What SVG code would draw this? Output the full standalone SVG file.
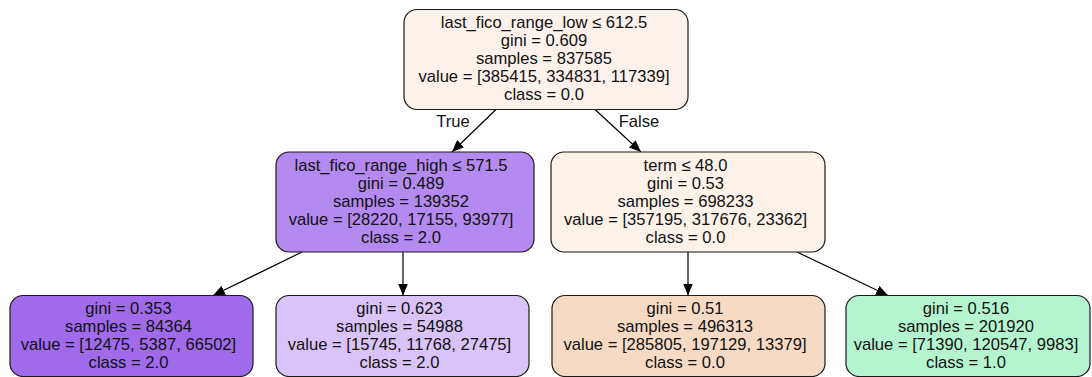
<svg xmlns="http://www.w3.org/2000/svg" width="1092" height="377" viewBox="0 0 1092 377">
<style>
.box{stroke:#1a1a1a;stroke-width:1.2}
text{font-family:"Liberation Sans",Arial,sans-serif;font-size:16.6px;fill:#111;text-anchor:middle}
.edge{stroke:#000;stroke-width:1.2;fill:none}
</style>
<defs>
<marker id="arr" markerUnits="userSpaceOnUse" viewBox="0 0 12 10" refX="12" refY="5" markerWidth="12" markerHeight="10" orient="auto">
<path d="M0,0 L12,5 L0,10 z" fill="#000"/>
</marker>
</defs>
<rect width="1092" height="377" fill="#fff"/>
<g id="edges">
<path class="edge" d="M496,109.5 L452,152" marker-end="url(#arr)"/>
<path class="edge" d="M595,109.5 L641,152" marker-end="url(#arr)"/>
<path class="edge" d="M302,252 L213,295.5" marker-end="url(#arr)"/>
<path class="edge" d="M403,252 L403,295.5" marker-end="url(#arr)"/>
<path class="edge" d="M688,252 L688,295.5" marker-end="url(#arr)"/>
<path class="edge" d="M797,252 L888,295.5" marker-end="url(#arr)"/>
<text x="453" y="126.5">True</text>
<text x="639" y="126.5">False</text>
</g>
<g id="n0">
<rect class="box" x="404" y="9.5" width="284" height="100" rx="13" fill="#fcf2eb"/>
<text x="544" y="28">last_fico_range_low ≤ 612.5</text>
<text x="544" y="46">gini = 0.609</text>
<text x="544" y="64">samples = 837585</text>
<text x="544" y="82">value = [385415, 334831, 117339]</text>
<text x="544" y="100">class = 0.0</text>
</g>
<g id="n1">
<rect class="box" x="276" y="152" width="258" height="100" rx="13" fill="#b48af0"/>
<text x="401" y="170.5">last_fico_range_high ≤ 571.5</text>
<text x="401" y="188.5">gini = 0.489</text>
<text x="401" y="206.5">samples = 139352</text>
<text x="401" y="224.5">value = [28220, 17155, 93977]</text>
<text x="401" y="242.5">class = 2.0</text>
</g>
<g id="n4">
<rect class="box" x="551" y="152" width="274" height="100" rx="13" fill="#fcf2ea"/>
<text x="685.5" y="170.5">term ≤ 48.0</text>
<text x="685.5" y="188.5">gini = 0.53</text>
<text x="685.5" y="206.5">samples = 698233</text>
<text x="685.5" y="224.5">value = [357195, 317676, 23362]</text>
<text x="685.5" y="242.5">class = 0.0</text>
</g>
<g id="n2">
<rect class="box" x="10" y="295.5" width="243" height="81" rx="13" fill="#a06aeb"/>
<text x="128.5" y="314">gini = 0.353</text>
<text x="128.5" y="332">samples = 84364</text>
<text x="128.5" y="350">value = [12475, 5387, 66502]</text>
<text x="128.5" y="368">class = 2.0</text>
</g>
<g id="n3">
<rect class="box" x="276" y="295.5" width="253" height="81" rx="13" fill="#d9c4f7"/>
<text x="399.5" y="314">gini = 0.623</text>
<text x="399.5" y="332">samples = 54988</text>
<text x="399.5" y="350">value = [15745, 11768, 27475]</text>
<text x="399.5" y="368">class = 2.0</text>
</g>
<g id="n5">
<rect class="box" x="552" y="295.5" width="273" height="81" rx="13" fill="#f7dac4"/>
<text x="685" y="314">gini = 0.51</text>
<text x="685" y="332">samples = 496313</text>
<text x="685" y="350">value = [285805, 197129, 13379]</text>
<text x="685" y="368">class = 0.0</text>
</g>
<g id="n6">
<rect class="box" x="846" y="295.5" width="244" height="81" rx="13" fill="#b4f5cf"/>
<text x="966" y="314">gini = 0.516</text>
<text x="966" y="332">samples = 201920</text>
<text x="966" y="350">value = [71390, 120547, 9983]</text>
<text x="966" y="368">class = 1.0</text>
</g>
</svg>
